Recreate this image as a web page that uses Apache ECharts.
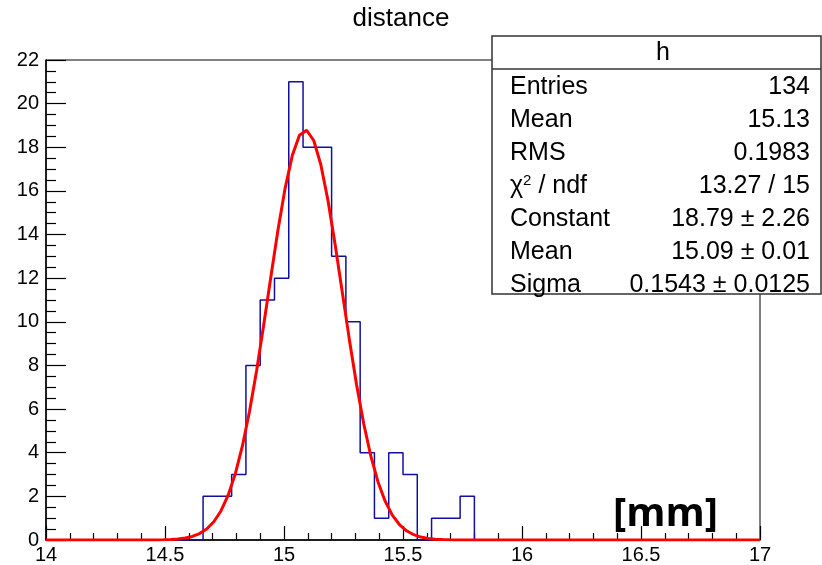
<!DOCTYPE html>
<html>
<head>
    <meta charset="utf-8">
    <title>distance</title>
    <script src="https://cdn.jsdelivr.net/npm/echarts@6/dist/echarts.min.js"></script>
    <style>
        html, body { margin: 0; padding: 0; background: #fff; }
    </style>
</head>
<body>
    <div id="main" style="width: 822px;height:565px;"></div>
    <script type="text/javascript">
        // histogram bins (edges) and counts
        var binEdges = [14.66, 14.72, 14.78, 14.84, 14.90, 14.96, 15.02, 15.08, 15.14, 15.20,
                        15.26, 15.32, 15.38, 15.44, 15.50, 15.56, 15.62, 15.68, 15.74, 15.80];
        var binCounts = [2, 2, 3, 8, 11, 12, 21, 18, 18, 13, 10, 4, 1, 4, 3, 0, 1, 1, 2];

        // gaussian fit curve, sampled points as drawn
        var fitX = [14.0, 14.465, 14.495, 14.525, 14.555, 14.585, 14.615, 14.645, 14.675, 14.705,
                    14.735, 14.765, 14.795, 14.825, 14.855, 14.885, 14.915, 14.945, 14.975, 15.005,
                    15.035, 15.065, 15.095, 15.125, 15.155, 15.185, 15.215, 15.245, 15.275, 15.305,
                    15.335, 15.365, 15.395, 15.425, 15.455, 15.485, 15.515, 15.545, 15.575, 15.605,
                    15.635, 15.665, 15.695, 15.725, 17.0];
        var fitY = [0, 0.005, 0.01, 0.023, 0.046, 0.089, 0.164, 0.294, 0.505, 0.836,
                    1.33, 2.04, 3.02, 4.30, 5.89, 7.77, 9.88, 12.08, 14.23, 16.14,
                    17.63, 18.55, 18.78, 18.31, 17.19, 15.55, 13.53, 11.35, 9.16, 7.12,
                    5.33, 3.84, 2.66, 1.78, 1.14, 0.709, 0.423, 0.243, 0.134, 0.072,
                    0.037, 0.018, 0.009, 0.004, 0];

        var xMin = 14, xMax = 17;
        var yMin = 0, yMax = 22;

        // stats box
        var statsTitle = 'h';
        var statsNames = ['Entries', 'Mean', 'RMS', '{n|χ}{s|2}{n| / ndf}', 'Constant', 'Mean', 'Sigma'];
        var statsValues = ['134', '15.13', '0.1983', '13.27 / 15', '18.79 ± 2.26', '15.09 ± 0.01', '0.1543 ± 0.0125'];

        var FONT = '"Liberation Sans", Arial, Helvetica, sans-serif';

        var myChart = echarts.init(document.getElementById('main'));

        // build outline points for the step line
        var histPts = [[xMin, 0]];
        for (var i = 0; i < binCounts.length; i++) {
            histPts.push([binEdges[i], binCounts[i]]);
        }
        histPts.push([binEdges[binEdges.length - 1], 0]);
        histPts.push([xMax, 0]);

        var fitPts = [];
        for (var j = 0; j < fitX.length; j++) {
            fitPts.push([fitX[j], fitY[j]]);
        }

        // stats box texts
        var boxL = 492, boxT = 36, boxW = 329, boxH = 258;
        var statsEls = [
            { type: 'rect', shape: { x: boxL, y: boxT, width: boxW, height: boxH },
              style: { fill: '#fff', stroke: '#333', lineWidth: 1.5 } },
            { type: 'line', shape: { x1: boxL, y1: 69, x2: boxL + boxW, y2: 69 },
              style: { stroke: '#333', lineWidth: 1.5 } },
            { type: 'text', x: 663, y: 53,
              style: { text: statsTitle, font: '25px ' + FONT, fill: '#000', align: 'center', verticalAlign: 'middle' } }
        ];
        for (var k = 0; k < statsNames.length; k++) {
            var ty = 87 + k * 33;
            statsEls.push({ type: 'text', x: 510, y: ty,
                style: { text: statsNames[k], font: '25px ' + FONT, fill: '#000',
                         align: 'left', verticalAlign: 'middle',
                         rich: { n: { fontSize: 25, fontFamily: FONT },
                                 s: { fontSize: 15, fontFamily: FONT, verticalAlign: 'top', padding: [0, 0, 10, 0] } } } });
            statsEls.push({ type: 'text', x: 810, y: ty,
                style: { text: statsValues[k], font: '25px ' + FONT, fill: '#000',
                         align: 'right', verticalAlign: 'middle' } });
        }

        var option = {
            animation: false,
            backgroundColor: '#fff',
            title: {
                text: 'distance',
                left: 396,
                top: 1,
                textAlign: 'center',
                textStyle: { fontFamily: FONT, fontSize: 26, fontWeight: 'normal', color: '#000' }
            },
            grid: {
                left: 46, right: 62, top: 60, bottom: 23,
                show: true, borderColor: '#000', borderWidth: 1, backgroundColor: 'transparent'
            },
            xAxis: {
                type: 'value',
                min: xMin, max: xMax, interval: 0.5,
                axisLine: { lineStyle: { color: '#000', width: 1.5 } },
                axisTick: { inside: true, length: 14, lineStyle: { color: '#000', width: 1.2 } },
                minorTick: { show: true, splitNumber: 5, length: 7, lineStyle: { color: '#000', width: 1.2 } },
                splitLine: { show: false },
                axisLabel: { fontFamily: FONT, fontSize: 20, color: '#000', margin: 5,
                             showMinLabel: true, showMaxLabel: true }
            },
            yAxis: {
                type: 'value',
                min: yMin, max: yMax, interval: 2,
                axisLine: { show: true, lineStyle: { color: '#000', width: 1.5 } },
                axisTick: { show: true, inside: true, length: 20, lineStyle: { color: '#000', width: 1.2 } },
                minorTick: { show: true, splitNumber: 4, length: 10, lineStyle: { color: '#000', width: 1.2 } },
                splitLine: { show: false },
                axisLabel: { fontFamily: FONT, fontSize: 20, color: '#000', margin: 7 }
            },
            series: [{
                name: 'h',
                type: 'line',
                step: 'end',
                symbol: 'none',
                data: histPts,
                lineStyle: { color: '#1010a0', width: 1.5 },
                z: 3
            }, {
                name: 'fit',
                type: 'line',
                symbol: 'none',
                smooth: false,
                data: fitPts,
                lineStyle: { color: '#ff0000', width: 3 },
                z: 4
            }],
            graphic: [
                { type: 'group', z: 100, children: statsEls },
                { type: 'text', z: 100, x: 718, y: 515,
                  style: { text: '[mm]', font: 'bold 40px "Open Sans", sans-serif', fill: '#000',
                           align: 'right', verticalAlign: 'middle' } }
            ]
        };

        myChart.setOption(option);
    </script>
</body>
</html>
